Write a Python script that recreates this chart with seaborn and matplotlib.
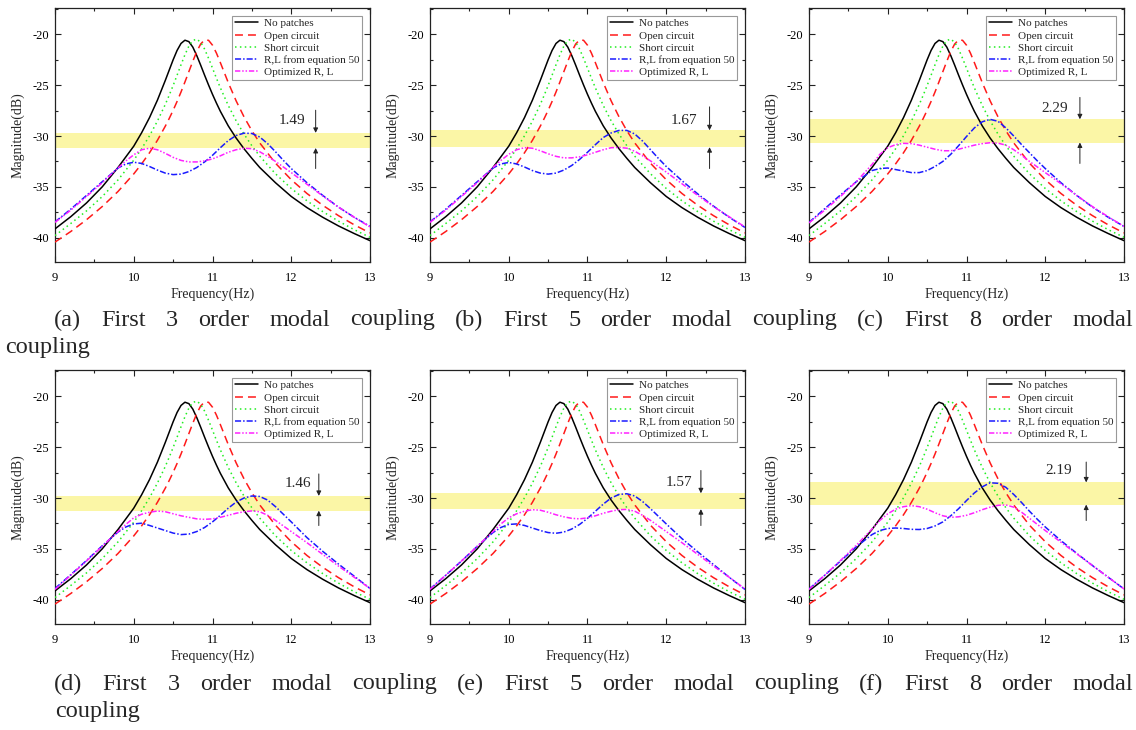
import numpy as np
import pandas as pd
import matplotlib
matplotlib.use("Agg")
import matplotlib.pyplot as plt
from matplotlib.ticker import MultipleLocator
import seaborn as sns

# ---------------- data ----------------
freq_sharp = [9.0, 9.2, 9.4, 9.6, 9.8, 10.0, 10.1, 10.2, 10.3, 10.4, 10.45, 10.5, 10.55, 10.6,
              10.65, 10.7, 10.75, 10.8, 10.85, 10.9, 10.95, 11.0, 11.05, 11.1, 11.2, 11.3, 11.4,
              11.5, 11.6, 11.8, 12.0, 12.2, 12.4, 12.6, 12.8, 13.0]
no_patches = [-39.14, -37.94, -36.59, -35.0, -33.1, -31.0, -29.68, -28.19, -26.48, -24.54, -23.52,
              -22.50, -21.58, -20.89, -20.57, -20.71, -21.25, -22.08, -23.03, -24.02, -24.98, -25.90,
              -26.76, -27.57, -29.0, -30.2, -31.25, -32.2, -33.1, -34.6, -35.95, -37.05, -38.0,
              -38.85, -39.6, -40.3]
open_circuit = [-40.44, -39.40, -38.24, -36.94, -35.46, -33.73, -32.74, -31.65, -30.43, -29.04,
                -28.28, -27.47, -26.60, -25.67, -24.68, -23.66, -22.64, -21.69, -20.94, -20.54,
                -20.58, -21.06, -21.84, -22.78, -24.74, -26.54, -28.11, -29.48, -30.68, -32.68,
                -34.30, -35.66, -36.82, -37.84, -38.74, -39.54]
short_circuit = [-39.8, -38.61, -37.37, -35.96, -34.32, -32.38, -31.25, -29.98, -28.54, -26.90,
                 -25.99, -25.03, -24.02, -22.99, -22.00, -21.15, -20.60, -20.46, -20.78, -21.45,
                 -22.35, -23.32, -24.31, -25.26, -26.99, -28.50, -29.81, -30.96, -31.98, -33.72,
                 -35.16, -36.38, -37.44, -38.38, -39.22, -39.97]

freq = [9.0, 9.2, 9.4, 9.6, 9.8, 9.9, 10.0, 10.1, 10.2, 10.3, 10.4, 10.5, 10.6, 10.7, 10.8, 10.9,
        11.0, 11.1, 11.2, 11.3, 11.4, 11.5, 11.6, 11.7, 11.8, 11.9, 12.0, 12.2, 12.4, 12.6, 12.8, 13.0]

rl_eq50_a = [-38.45, -37.2, -35.85, -34.5, -33.15, -32.75, -32.58, -32.7, -33.0, -33.35, -33.65, -33.8,
             -33.75, -33.5, -33.1, -32.55, -31.9, -31.15, -30.45, -29.95, -29.72, -29.75, -30.1, -30.75,
             -31.55, -32.4, -33.2, -34.6, -35.85, -37.0, -38.0, -38.9]
optimized_a = [-38.5, -37.3, -35.95, -34.6, -33.15, -32.45, -31.85, -31.35, -31.2, -31.35, -31.7, -32.1,
               -32.4, -32.55, -32.55, -32.45, -32.25, -31.95, -31.6, -31.35, -31.2, -31.25, -31.55, -32.0,
               -32.5, -33.05, -33.6, -34.75, -35.9, -37.0, -38.0, -38.95]
rl_eq50_b = [-38.45, -37.2, -35.85, -34.5, -33.15, -32.75, -32.6, -32.75, -33.05, -33.4, -33.65, -33.75,
             -33.65, -33.35, -32.9, -32.3, -31.6, -30.85, -30.15, -29.7, -29.45, -29.45, -29.8, -30.5,
             -31.35, -32.2, -33.0, -34.4, -35.7, -36.9, -38.0, -39.0]
optimized_b = [-38.5, -37.3, -35.95, -34.6, -33.1, -32.4, -31.8, -31.35, -31.15, -31.2, -31.45, -31.75,
               -32.0, -32.15, -32.15, -32.05, -31.85, -31.6, -31.35, -31.15, -31.12, -31.2, -31.5, -31.95,
               -32.45, -33.0, -33.55, -34.7, -35.85, -36.95, -37.95, -38.95]
rl_eq50_c = [-38.5, -37.15, -35.8, -34.5, -33.4, -33.2, -33.15, -33.3, -33.45, -33.6, -33.6, -33.4,
             -33.0, -32.5, -31.8, -30.95, -30.05, -29.2, -28.6, -28.36, -28.55, -29.2, -30.0, -30.85,
             -31.65, -32.45, -33.2, -34.6, -35.85, -37.0, -38.0, -38.9]
optimized_c = [-38.55, -37.3, -35.95, -34.5, -32.8, -31.8, -31.15, -30.85, -30.72, -30.75, -30.9, -31.1,
               -31.3, -31.45, -31.45, -31.3, -31.1, -30.9, -30.75, -30.66, -30.7, -30.9, -31.35, -31.9,
               -32.5, -33.05, -33.6, -34.7, -35.85, -36.95, -37.95, -38.9]
rl_eq50_d = [-38.9, -37.55, -36.15, -34.7, -33.35, -32.85, -32.55, -32.48, -32.7, -32.95, -33.2, -33.45,
             -33.6, -33.55, -33.3, -32.9, -32.35, -31.7, -31.0, -30.4, -30.0, -29.8, -29.85, -30.2,
             -30.85, -31.6, -32.35, -33.9, -35.25, -36.5, -37.7, -38.9]
optimized_d = [-39.0, -37.6, -36.2, -34.75, -33.3, -32.6, -31.95, -31.6, -31.4, -31.28, -31.35, -31.55,
               -31.75, -31.9, -32.05, -32.1, -32.05, -31.9, -31.7, -31.5, -31.35, -31.27, -31.35, -31.7,
               -32.2, -32.75, -33.3, -34.4, -35.55, -36.7, -37.8, -38.9]
rl_eq50_e = [-38.95, -37.6, -36.2, -34.75, -33.4, -32.9, -32.6, -32.55, -32.7, -32.95, -33.2, -33.4,
             -33.47, -33.35, -33.05, -32.6, -32.0, -31.3, -30.6, -30.0, -29.65, -29.58, -29.8, -30.35,
             -31.05, -31.8, -32.55, -34.0, -35.3, -36.55, -37.8, -39.0]
optimized_e = [-39.0, -37.6, -36.2, -34.75, -33.3, -32.55, -31.95, -31.55, -31.3, -31.15, -31.2, -31.4,
               -31.65, -31.85, -32.0, -32.05, -31.95, -31.75, -31.5, -31.3, -31.15, -31.12, -31.3, -31.7,
               -32.2, -32.75, -33.3, -34.4, -35.55, -36.7, -37.8, -38.95]
rl_eq50_f = [-38.95, -37.6, -36.2, -34.8, -33.6, -33.2, -33.0, -32.95, -33.0, -33.08, -33.1, -33.0,
             -32.75, -32.35, -31.75, -31.05, -30.25, -29.5, -28.9, -28.5, -28.55, -28.95, -29.65, -30.45,
             -31.3, -32.1, -32.85, -34.2, -35.45, -36.65, -37.8, -38.95]
optimized_f = [-39.0, -37.6, -36.15, -34.65, -33.05, -32.2, -31.55, -31.1, -30.85, -30.75, -30.85, -31.1,
               -31.45, -31.75, -31.9, -31.85, -31.7, -31.45, -31.15, -30.9, -30.72, -30.68, -30.9, -31.4,
               -32.0, -32.6, -33.2, -34.35, -35.5, -36.65, -37.8, -38.95]

rl_eq50 = [rl_eq50_a, rl_eq50_b, rl_eq50_c, rl_eq50_d, rl_eq50_e, rl_eq50_f]
optimized = [optimized_a, optimized_b, optimized_c, optimized_d, optimized_e, optimized_f]

series_names = ["No patches", "Open circuit", "Short circuit", "R,L from equation 50", "Optimized R, L"]
gap_labels = ["1.49", "1.67", "2.29", "1.46", "1.57", "2.19"]
band_top = [-29.69, -29.43, -28.35, -29.79, -29.53, -28.46]
band_bottom = [-31.18, -31.10, -30.64, -31.25, -31.10, -30.65]

captions = [
    ("(a) First 3 order modal coupling (b) First 5 order modal coupling (c) First 8 order modal", "coupling"),
    ("(d) First 3 order modal coupling (e) First 5 order modal coupling (f) First 8 order modal", "coupling"),
]

# ---------------- layout / style ----------------
W, H = 1136, 730
arrow_x = [12.31, 12.55, 12.44, 12.35, 12.44, 12.52]
arrow_start_top = [-27.46, -27.13, -26.2, -27.63, -27.29, -26.46]
arrow_start_bot = [-33.2, -33.2, -32.7, -32.71, -32.71, -32.22]
text_xy = [(12.01, -28.45), (12.22, -28.45), (12.12, -27.29),
           (12.08, -28.6), (12.16, -28.44), (12.17, -27.29)]

styles = {
    "No patches": dict(color="black", linestyle="-"),
    "Open circuit": dict(color="#ff1a1a", linestyle=(0, (5.2, 3.3))),
    "Short circuit": dict(color="#22ee22", linestyle=(0, (1.0, 2.2))),
    "R,L from equation 50": dict(color="#1a1aff", linestyle=(0, (4.0, 1.3, 1.0, 1.3))),
    "Optimized R, L": dict(color="#ff22ff", linestyle=(0, (3.5, 1.2, 1.0, 1.2, 1.0, 1.2))),
}

sns.set_theme(style="ticks")
plt.rcParams["font.family"] = ["Liberation Serif", "DejaVu Serif"]
plt.rcParams["axes.unicode_minus"] = False

fig = plt.figure(figsize=(W / 100, H / 100), dpi=100)
fig.patch.set_facecolor("white")

lefts = [55, 430, 809]
tops = [8, 370]
aw, ah = 315, 254

for i in range(6):
    r, c = divmod(i, 3)
    ax = fig.add_axes([lefts[c] / W, 1 - (tops[r] + ah) / H, aw / W, ah / H])
    ax.set_facecolor("white")

    sharp = pd.DataFrame({"freq": freq_sharp * 3,
                          "mag": no_patches + open_circuit + short_circuit,
                          "series": sum([[n] * len(freq_sharp) for n in series_names[:3]], [])})
    damped = pd.DataFrame({"freq": freq * 2,
                           "mag": rl_eq50[i] + optimized[i],
                           "series": sum([[n] * len(freq) for n in series_names[3:]], [])})
    df = pd.concat([sharp, damped], ignore_index=True)

    ax.axhspan(band_bottom[i], band_top[i], color="#fbf6a6", zorder=0, lw=0)
    for name in series_names:
        sub = df[df["series"] == name]
        sns.lineplot(data=sub, x="freq", y="mag", ax=ax, label=name, lw=1.1,
                     estimator=None, sort=False, zorder=3, **styles[name])

    ax.set_xlim(9, 13)
    ax.set_ylim(-42.4, -17.4)
    ax.xaxis.set_major_locator(MultipleLocator(1))
    ax.xaxis.set_minor_locator(MultipleLocator(0.5))
    ax.yaxis.set_major_locator(MultipleLocator(5))
    ax.yaxis.set_minor_locator(MultipleLocator(2.5))
    ax.tick_params(which="both", direction="in", top=True, right=True, colors="#222222",
                   labelcolor="black", width=0.8)
    ax.tick_params(which="major", length=4)
    ax.tick_params(which="minor", length=2.2)
    ax.tick_params(axis="x", labelsize=9, pad=7)
    ax.tick_params(axis="y", labelsize=9, pad=4)
    for s in ax.spines.values():
        s.set_color("#222222")
        s.set_linewidth(0.9)
    ax.set_xlabel("Frequency(Hz)", fontsize=10, labelpad=3)
    ax.set_ylabel("Magnitude(dB)", fontsize=10, labelpad=6)

    leg = ax.legend(loc="upper right", fontsize=8, frameon=True, fancybox=False,
                    edgecolor="#999999", framealpha=1, borderpad=0.25, labelspacing=0.22,
                    handlelength=2.1, handletextpad=0.5, borderaxespad=0.7)
    leg.get_frame().set_linewidth(0.8)

    ax.annotate("", xy=(arrow_x[i], band_top[i]), xytext=(arrow_x[i], arrow_start_top[i]),
                arrowprops=dict(arrowstyle="-|>", color="#222222", lw=0.7, mutation_scale=7,
                                shrinkA=0, shrinkB=0), zorder=5)
    ax.annotate("", xy=(arrow_x[i], band_bottom[i]), xytext=(arrow_x[i], arrow_start_bot[i]),
                arrowprops=dict(arrowstyle="-|>", color="#222222", lw=0.7, mutation_scale=7,
                                shrinkA=0, shrinkB=0), zorder=5)
    tx, ty = text_xy[i]
    ax.text(tx, ty, gap_labels[i], fontsize=11, ha="center", va="center", zorder=5)

# ---------------- captions (justified first line) ----------------
renderer = fig.canvas.get_renderer()
cap_size = 17.5
line1_y = [320, 684]
line2_y = [347, 712]
line2_x = [5, 55]
for k, (l1, l2) in enumerate(captions):
    words = l1.split()
    objs = [fig.text(0, 1 - line1_y[k] / H, w, fontsize=cap_size, ha="left", va="center")
            for w in words]
    widths = [o.get_window_extent(renderer).width for o in objs]
    x0, x1 = 54, 1133
    gap = ((x1 - x0) - sum(widths)) / (len(words) - 1)
    x = x0
    for o, wd in zip(objs, widths):
        o.set_x(x / W)
        x += wd + gap
    fig.text(line2_x[k] / W, 1 - line2_y[k] / H, l2, fontsize=cap_size, ha="left", va="center")

fig.savefig("out.png", dpi=100, facecolor="white")
